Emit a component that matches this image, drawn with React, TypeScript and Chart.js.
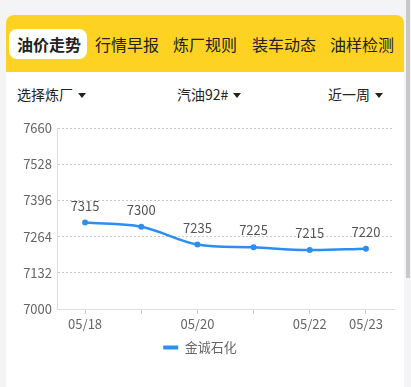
import React, { useEffect, useRef } from "react";
import { Chart, registerables } from "chart.js";

Chart.register(...registerables);

const tabs = ["油价走势", "行情早报", "炼厂规则", "装车动态", "油样检测"];
const tabX = [17, 95, 173, 252, 330];
const filters = ["选择炼厂", "汽油92#", "近一周"];
const categories = ["05/18", "05/19", "05/20", "05/21", "05/22", "05/23"];
const xTickLabels = ["05/18", "", "05/20", "", "05/22", "05/23"];
const seriesName = "金诚石化";
const seriesValues = [7315, 7300, 7235, 7225, 7215, 7220];
const yMin = 7000;
const yMax = 7660;
const yStep = 132;

const FONT = '"Noto Sans CJK SC", "Noto Sans", sans-serif';
const BLUE = "#2b8ef0";

const valueLabelPlugin = {
  id: "valueLabels",
  afterDatasetsDraw(chart: any) {
    const ctx = chart.ctx;
    const meta = chart.getDatasetMeta(0);
    const ds = chart.data.datasets[0];
    ctx.save();
    ctx.font = "13px " + FONT;
    ctx.fillStyle = "#555";
    ctx.textAlign = "center";
    ctx.textBaseline = "alphabetic";
    meta.data.forEach((pt: any, i: number) => {
      ctx.fillText(String(ds.data[i]), pt.x, pt.y - 12);
    });
    ctx.restore();
  },
};

function Triangle() {
  return (
    <span
      style={{
        display: "inline-block",
        width: 0,
        height: 0,
        borderLeft: "4px solid transparent",
        borderRight: "4px solid transparent",
        borderTop: "5px solid #222",
        marginLeft: 5,
        verticalAlign: "middle",
        position: "relative",
        top: -1,
      }}
    />
  );
}

export default function App() {
  const canvasRef = useRef<HTMLCanvasElement>(null);

  useEffect(() => {
    const canvas = canvasRef.current;
    if (!canvas) return;
    const chart = new Chart(canvas, {
      type: "line",
      data: {
        labels: categories,
        datasets: [
          {
            label: seriesName,
            data: seriesValues,
            borderColor: BLUE,
            backgroundColor: BLUE,
            borderWidth: 2.5,
            pointRadius: 3,
            pointBackgroundColor: BLUE,
            pointBorderColor: BLUE,
            pointBorderWidth: 0,
            tension: 0.35,
            fill: false,
          },
        ],
      },
      options: {
        animation: false,
        responsive: false,
        maintainAspectRatio: false,
        layout: { padding: { left: 0, right: 10, top: 18, bottom: 0 } },
        plugins: {
          tooltip: { enabled: false },
          legend: {
            display: true,
            position: "bottom",
            labels: {
              boxWidth: 15,
              boxHeight: 4,
              padding: 10,
              color: "#666",
              font: { size: 13, family: FONT },
              generateLabels: (c: any) =>
                c.data.datasets.map((d: any, i: number) => ({
                  text: d.label,
                  fillStyle: BLUE,
                  strokeStyle: BLUE,
                  lineWidth: 0,
                  hidden: false,
                  datasetIndex: i,
                  fontColor: "#666",
                })),
            },
          },
        },
        scales: {
          x: {
            offset: true,
            grid: {
              display: true,
              drawOnChartArea: false,
              drawTicks: true,
              tickLength: 5,
              color: "#ccc",
              offset: false,
            },
            border: { display: true, color: "#ddd", width: 1 },
            ticks: {
              autoSkip: false,
              maxRotation: 0,
              padding: 2,
              color: "#666",
              font: { size: 13, family: FONT },
              callback: (_v: any, i: number) => xTickLabels[i],
            },
            afterFit: (scale: any) => {
              scale.height = 22;
            },
          },
          y: {
            min: yMin,
            max: yMax,
            grid: {
              display: true,
              drawTicks: false,
              color: (ctx: any) => (ctx.tick && ctx.tick.value === yMin ? "rgba(0,0,0,0)" : "#c8c8c8"),
              lineWidth: 1,
            },
            border: { display: true, color: "#ddd", width: 1, dash: [2, 2] },
            ticks: {
              stepSize: yStep,
              padding: 5,
              color: "#666",
              font: { size: 13, family: FONT },
              callback: (v: any) => String(v),
            },
            afterFit: (scale: any) => {
              scale.width = 51;
            },
          },
        },
      },
      plugins: [valueLabelPlugin],
    } as any);
    return () => chart.destroy();
  }, []);

  return (
    <div
      style={{
        position: "fixed",
        left: 0,
        top: 0,
        width: 411,
        height: 387,
        background: "#f4f4f6",
        overflow: "hidden",
        fontFamily: FONT,
      }}
    >
      <div style={{ position: "absolute", left: 406, top: 0, width: 4, height: 278, background: "#c8c8c8" }} />
      <div style={{ position: "absolute", left: 6, top: 15, width: 398, height: 372, background: "#fff", borderRadius: "8px 8px 0 0" }} />
      <div
        style={{
          position: "absolute",
          left: 6,
          top: 15,
          width: 398,
          height: 57,
          background: "#fdd223",
          borderRadius: "8px 8px 0 0",
        }}
      >
        <div
          style={{
            position: "absolute",
            left: 3,
            top: 14,
            width: 78,
            height: 30,
            background: "#fff",
            borderRadius: 8,
          }}
        />
        {tabs.map((t, i) => (
          <div
            key={t}
            style={{
              position: "absolute",
              left: tabX[i] - 6,
              top: 19,
              fontSize: 16,
              lineHeight: "20px",
              color: "#222",
              fontWeight: i === 0 ? 700 : 400,
              whiteSpace: "nowrap",
            }}
          >
            {t}
          </div>
        ))}
      </div>
      <div style={{ position: "absolute", left: 17, top: 85, fontSize: 14, lineHeight: "18px", color: "#222", whiteSpace: "nowrap" }}>
        {filters[0]}
        <Triangle />
      </div>
      <div style={{ position: "absolute", left: 177, top: 85, fontSize: 14, lineHeight: "18px", color: "#222", whiteSpace: "nowrap" }}>
        {filters[1]}
        <Triangle />
      </div>
      <div style={{ position: "absolute", left: 328, top: 85, fontSize: 14, lineHeight: "18px", color: "#222", whiteSpace: "nowrap" }}>
        {filters[2]}
        <Triangle />
      </div>
      <canvas
        ref={canvasRef}
        width={398}
        height={254}
        style={{ position: "absolute", left: 6, top: 110, width: 398, height: 254 }}
      />
    </div>
  );
}
